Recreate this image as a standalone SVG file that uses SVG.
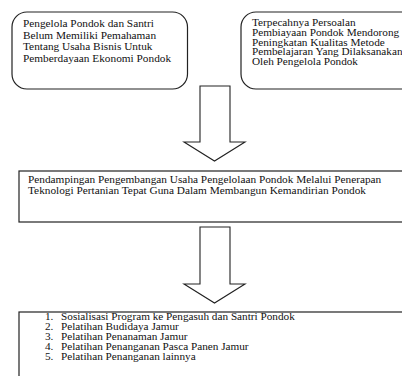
<svg xmlns="http://www.w3.org/2000/svg" width="402" height="376" viewBox="0 0 402 376">
<style>
.box{fill:#fff;stroke:#222;stroke-width:1.2}
.arr{fill:#fff;stroke:#222;stroke-width:1.1;stroke-linejoin:miter}
text{font-family:"Liberation Serif","Times New Roman",serif;font-size:11.3px;fill:#111}
.sm{font-size:9.6px}
</style>
<rect width="402" height="376" fill="#fff"/>
<g id="node-left">
<rect class="box" x="12" y="12" width="175.5" height="77" rx="15" ry="15"/>
<text x="23" y="27">Pengelola Pondok dan Santri</text>
<text x="23" y="38.5">Belum Memiliki Pemahaman</text>
<text x="23" y="50">Tentang Usaha Bisnis Untuk</text>
<text x="23" y="61.5">Pemberdayaan Ekonomi Pondok</text>
</g>
<g id="node-right">
<rect class="box" x="241" y="12" width="190" height="77" rx="15" ry="15"/>
<g transform="translate(252,0) scale(1.17,1)">
<text class="sm" x="0" y="26">Terpecahnya Persoalan</text>
<text class="sm" x="0" y="35.8">Pembiayaan Pondok Mendorong</text>
<text class="sm" x="0" y="45.6">Peningkatan Kualitas Metode</text>
<text class="sm" x="0" y="55.4">Pembelajaran Yang Dilaksanakan</text>
<text class="sm" x="0" y="65.2">Oleh Pengelola Pondok</text>
</g>
</g>
<g id="node-middle">
<rect class="box" x="19" y="171" width="400" height="51"/>
<text x="28" y="183">Pendampingan Pengembangan Usaha Pengelolaan Pondok Melalui Penerapan</text>
<text x="28" y="194">Teknologi Pertanian Tepat Guna Dalam Membangun Kemandirian Pondok</text>
</g>
<g id="node-bottom">
<rect class="box" x="19" y="312" width="400" height="80"/>
<g transform="translate(45,0) scale(1.17,1)">
<text class="sm" x="0" y="320.5">1.</text><text class="sm" x="13.7" y="320.5">Sosialisasi Program ke Pengasuh dan Santri Pondok</text>
<text class="sm" x="0" y="330.3">2.</text><text class="sm" x="13.7" y="330.3">Pelatihan Budidaya Jamur</text>
<text class="sm" x="0" y="340.1">3.</text><text class="sm" x="13.7" y="340.1">Pelatihan Penanaman Jamur</text>
<text class="sm" x="0" y="349.9">4.</text><text class="sm" x="13.7" y="349.9">Pelatihan Penanganan Pasca Panen Jamur</text>
<text class="sm" x="0" y="359.7">5.</text><text class="sm" x="13.7" y="359.7">Pelatihan Penanganan lainnya</text>
</g>
</g>
<g id="connectors">
<polygon class="arr" points="200,86 230,86 230,142 245,142 214.5,161 184,142 200,142"/>
<polygon class="arr" points="200,227 230,227 230,284 245,284 214.5,303 184,284 200,284"/>
</g>
</svg>
